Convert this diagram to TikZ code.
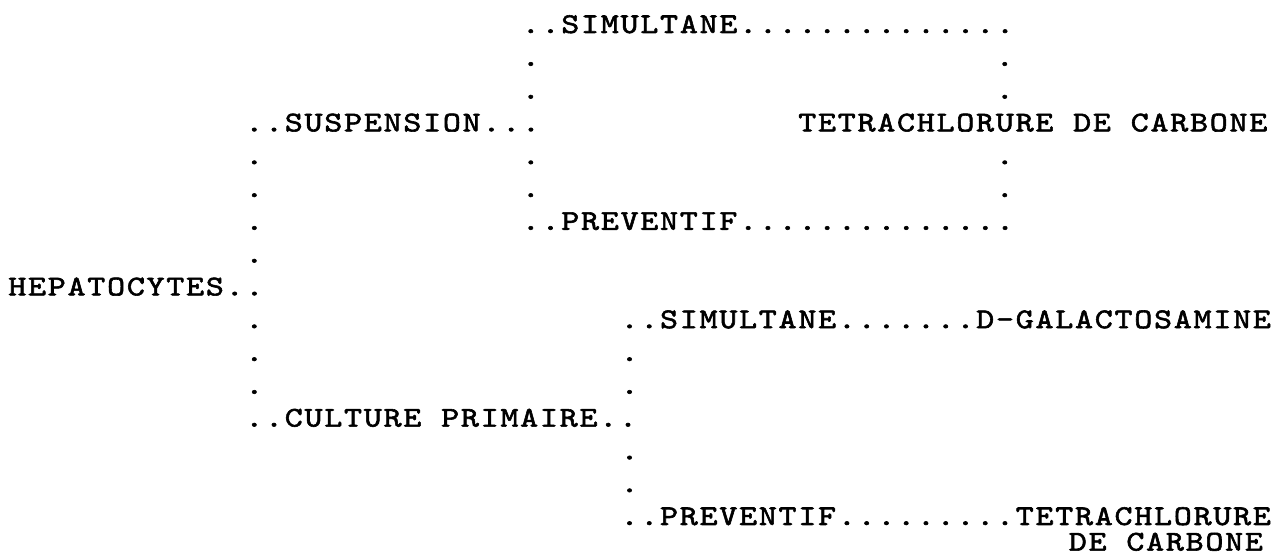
\documentclass[tikz,border=0pt]{standalone}
\usepackage{fontspec}
\newfontfamily\typer{lmmono10-regular.otf}[FakeStretch=1.2,LetterSpace=6.1,FakeBold=2]
\usepackage{tikz}

\begin{document}
\begin{tikzpicture}[x=19.75pt, y=-32.8pt,
	typed/.style={anchor=base west, inner sep=0pt, text height=0.62em, text depth=0pt, font=\typer\fontsize{28.6}{30}\selectfont}]
			\useasboundingbox (-0.41,-1.006) rectangle (64.2,15.88);

			% typed lines, (column,row)
			\node[typed] (sima) at (26,0) {..SIMULTANE..............};
			\node[typed] (susp) at (12,3) {..SUSPENSION...};
			\node[typed] (tetra) at (40,3) {TETRACHLORURE DE CARBONE};
			\node[typed] (preva) at (26,6) {..PREVENTIF..............};
			\node[typed] (hep) at (0,8) {HEPATOCYTES..};
			\node[typed] (simb) at (31,9) {..SIMULTANE.......D-GALACTOSAMINE};
			\node[typed] (cult) at (12,12) {..CULTURE PRIMAIRE..};
			\node[typed] (prevb) at (31,15) {..PREVENTIF.........TETRACHLORURE};
			\node[typed] (carb) at (53.7,15.78) {DE CARBONE};

			% dotted columns
			\foreach \r in {1,2,4,5} {
				\node[typed] (ua-\r) at (26,\r) {.};
				\node[typed] (ub-\r) at (50,\r) {.};
			}
			\foreach \r in {4,5,6,7,9,10,11}
				\node[typed] (la-\r) at (12,\r) {.};
			\foreach \r in {10,11,13,14}
				\node[typed] (lb-\r) at (31,\r) {.};
		\end{tikzpicture}
\end{document}
